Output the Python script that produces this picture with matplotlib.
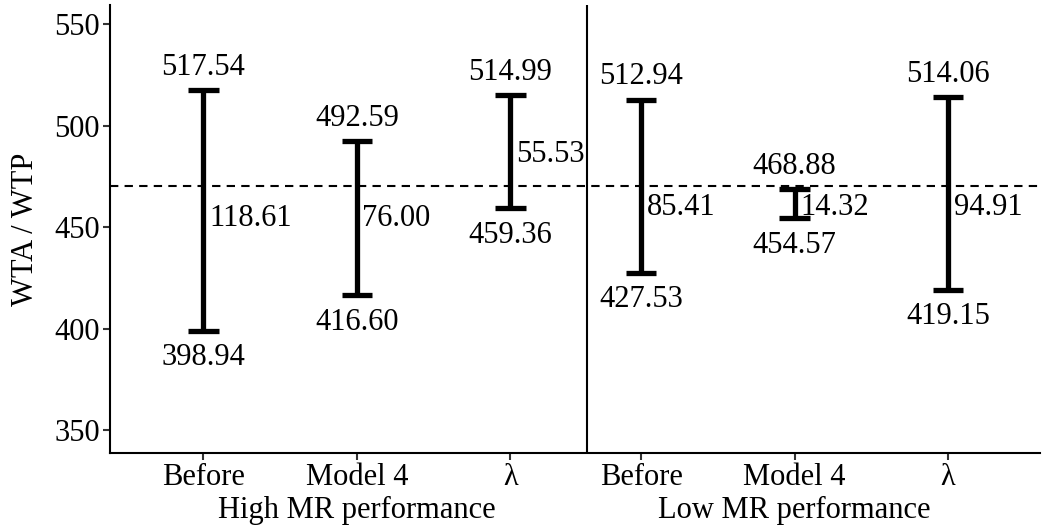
import matplotlib
matplotlib.use("Agg")
import matplotlib.pyplot as plt

# ── Données ──────────────────────────────────────────────────────────────
categories = ["Before", "Model 4", "λ", "Before", "Model 4", "λ"]
groups     = ["High MR performance", "Low MR performance"]
upper      = [517.54, 492.59, 514.99, 512.94, 468.88, 514.06]
lower      = [398.94, 416.60, 459.36, 427.53, 454.57, 419.15]
widths     = ["118.61", "76.00", "55.53", "85.41", "14.32", "94.91"]
width_y    = [454.5, 454.5, 486.0, 460.0, 460.0, 460.0]   # position des étiquettes
ref_line   = 470.5

xpos = [1, 2, 3, 3.85, 4.85, 5.85]
FS = 22

plt.rcParams['font.family'] = ['Liberation Serif', 'DejaVu Serif']
fig, ax = plt.subplots(figsize=(10.55, 5.3), dpi=100)
fig.subplots_adjust(left=0.104, right=0.986, top=0.99, bottom=0.145)

for x, hi, lo, w, wy in zip(xpos, upper, lower, widths, width_y):
    ax.plot([x, x], [lo, hi], color='black', lw=3.8, solid_capstyle='butt')
    ax.plot([x - 0.1, x + 0.1], [hi, hi], color='black', lw=3.8, solid_capstyle='butt')
    ax.plot([x - 0.1, x + 0.1], [lo, lo], color='black', lw=3.8, solid_capstyle='butt')
    ax.annotate(f"{hi:.2f}", (x, hi), xytext=(0, 6), textcoords='offset points',
                ha='center', va='bottom', fontsize=FS)
    ax.annotate(f"{lo:.2f}", (x, lo), xytext=(0, -9), textcoords='offset points',
                ha='center', va='top', fontsize=FS)
    ax.annotate(w, (x, wy), xytext=(4, 0), textcoords='offset points',
                ha='left', va='center', fontsize=FS)

ax.axhline(ref_line, color='black', ls=(0, (4, 3)), lw=1.5)
ax.axvline(3.5, color='black', lw=1.5)

ax.set_xlim(0.39, 6.45)
ax.set_ylim(338.7, 559.4)
ax.set_yticks([350, 400, 450, 500, 550])
ax.set_xticks(xpos)
ax.set_xticklabels(categories)
ax.tick_params(labelsize=FS, width=1.5, length=5, color='#333333', pad=2)
ax.set_ylabel("WTA / WTP", fontsize=FS, labelpad=10)

for s in ['top', 'right']:
    ax.spines[s].set_visible(False)
for s in ['left', 'bottom']:
    ax.spines[s].set_linewidth(1.5)

ax.text(2, -0.095, groups[0], transform=ax.get_xaxis_transform(), ha='center', va='top', fontsize=FS)
ax.text(4.85, -0.095, groups[1], transform=ax.get_xaxis_transform(), ha='center', va='top', fontsize=FS)

plt.savefig("out.png", dpi=100)
